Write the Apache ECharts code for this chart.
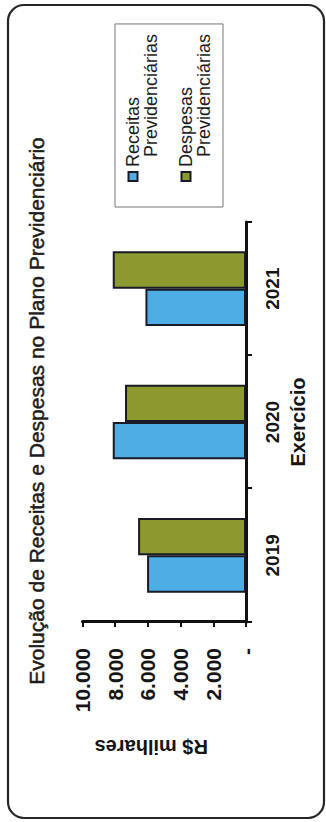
<!DOCTYPE html>
<html>
<head>
<meta charset="utf-8">
<script src="https://cdn.jsdelivr.net/npm/echarts@6/dist/echarts.min.js"></script>
<style>
  html, body { margin: 0; padding: 0; background: #ffffff; overflow: hidden; width: 326px; height: 822px; }
  #chart { position: absolute; left: 0; top: 0; width: 822px; height: 326px;
           transform-origin: 0 0; transform: translate(0, 822px) rotate(-90deg); }
</style>
</head>
<body>
<div id="chart"></div>
<script>
const categories = ['2019', '2020', '2021'];
const receitas = [6050, 8150, 6150];
const despesas = [6600, 7400, 8150];
const valueTickLabels = ['-', '2.000', '4.000', '6.000', '8.000', '10.000'];
const seriesNames = ['Receitas Previdenciárias', 'Despesas Previdenciárias'];
const titleText = 'Evolução de Receitas e Despesas no Plano Previdenciário';

const FONT = '"Liberation Sans", Arial, sans-serif';
const chart = echarts.init(document.getElementById('chart'), null, { renderer: 'svg', width: 822, height: 326 });

chart.setOption({
  animation: false,
  backgroundColor: '#ffffff',
  textStyle: { fontFamily: FONT },
  graphic: [{
    type: 'rect', silent: true,
    shape: { x: 4, y: 8, width: 813, height: 316, r: 16 },
    style: { fill: 'none', stroke: '#262626', lineWidth: 2.2 }
  }],
  title: {
    text: titleText,
    left: 'center', top: 26, padding: [0, 0, 0, 8],
    textStyle: { fontFamily: FONT, fontSize: 21, fontWeight: 'normal', color: '#1c1c1c',
      textBorderColor: '#1c1c1c', textBorderWidth: 0.5 }
  },
  legend: {
    orient: 'vertical', left: 615, top: 115,
    padding: [9, 10, 10, 25], itemGap: 17,
    itemWidth: 9, itemHeight: 30,
    icon: 'path://M0,0L10,0L10,10L0,10ZM0,30',
    borderColor: '#777', borderWidth: 1,
    textStyle: { fontFamily: FONT, fontSize: 18, lineHeight: 18, color: '#1c1c1c',
      rich: { b: { fontFamily: FONT, fontSize: 18, lineHeight: 18, color: '#1c1c1c', padding: [0, 0, 0, 10] } } },
    formatter: function (n) { const p = n.split(' '); return p[0] + '\n{b|' + p[1] + '}'; }
  },
  grid: { left: 200, right: 222, top: 82.5, bottom: 80, containLabel: false },
  xAxis: {
    type: 'category', data: categories,
    name: 'Exercício', nameLocation: 'middle', nameGap: 42,
    nameTextStyle: { fontFamily: FONT, fontSize: 20, fontWeight: 'bold', color: '#151515' },
    axisLine: { lineStyle: { color: '#111', width: 3 } },
    axisTick: { show: true, length: 6, lineStyle: { color: '#111', width: 2 } },
    axisLabel: { margin: 17, fontFamily: FONT, fontSize: 19, fontWeight: 'bold', color: '#151515' },
    splitLine: { show: false }
  },
  yAxis: {
    type: 'value', min: 0, max: 10000, interval: 2000,
    name: 'R$ milhares', nameLocation: 'middle', nameGap: 115, nameRotate: 90,
    nameTextStyle: { fontFamily: FONT, fontSize: 20, fontWeight: 'bold', color: '#151515', padding: [0, 0, 0, 26] },
    axisLine: { show: true, lineStyle: { color: '#111', width: 3 } },
    axisTick: { show: true, length: 5, lineStyle: { color: '#111', width: 2 } },
    axisLabel: { margin: 26, fontFamily: FONT, fontSize: 21, fontWeight: 'bold', color: '#151515',
      formatter: function (v) { return valueTickLabels[Math.round(v / 2000)]; } },
    splitLine: { show: false }
  },
  series: [
    { type: 'bar', name: seriesNames[0], data: receitas, barGap: '0%', barCategoryGap: '44%',
      itemStyle: { color: '#4daee6', borderColor: '#1a1a26', borderWidth: 2 } },
    { type: 'bar', name: seriesNames[1], data: despesas, barGap: '0%', barCategoryGap: '44%',
      itemStyle: { color: '#8b992e', borderColor: '#1a1a26', borderWidth: 2 } }
  ]
});
</script>
</body>
</html>
